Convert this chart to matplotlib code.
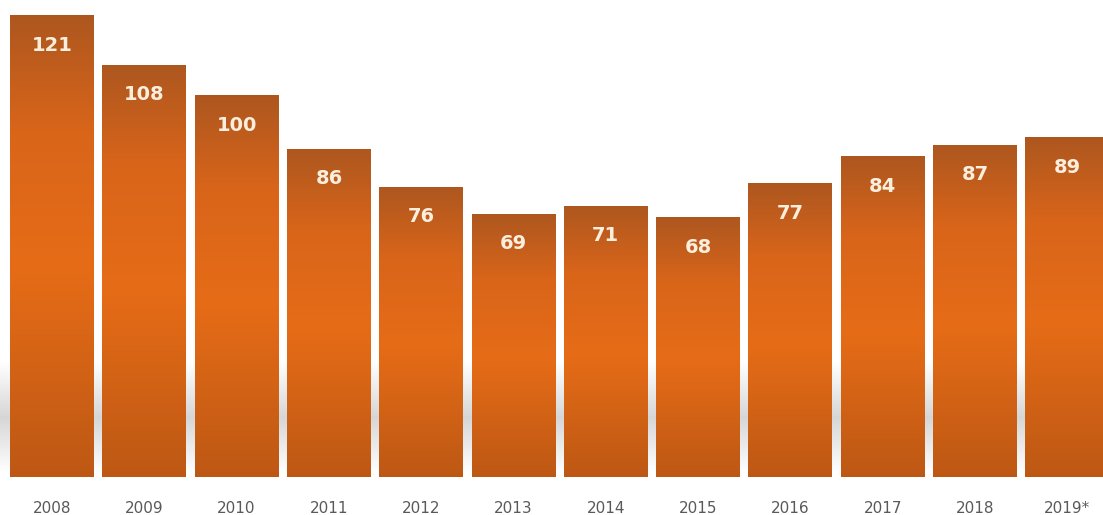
import numpy as np
import matplotlib.pyplot as plt
from matplotlib.colors import LinearSegmentedColormap
from matplotlib.patches import Rectangle

years = ['2008', '2009', '2010', '2011', '2012', '2013', '2014', '2015',
         '2016', '2017', '2018', '2019*']
values = [121, 108, 100, 86, 76, 69, 71, 68, 77, 84, 87, 89]

fig = plt.figure(figsize=(11.03, 5.15), dpi=100)
ax = fig.add_axes([0, 38 / 515, 1, 477 / 515])

x = np.arange(len(years))
width = 0.91
ymax = 477 / 3.818

# vertical gradient: brownish at top, bright orange middle, darker at bottom
cmap = LinearSegmentedColormap.from_list('bar', [
    (0.0, '#bd5814'),
    (0.45, '#e66c17'),
    (0.75, '#d9651a'),
    (1.0, '#ad571f'),
])
grad = np.linspace(0, 1, 256).reshape(-1, 1)

# soft grey shadow in the gaps near the bottom
shadow = LinearSegmentedColormap.from_list('sh', ['#ffffff', '#d6d6d6', '#ffffff'])
ax.imshow(np.linspace(0, 1, 128).reshape(-1, 1), cmap=shadow, aspect='auto',
          extent=(-0.6, 11.4, 1, 30), origin='lower', zorder=0)

for xi, v in zip(x, values):
    rect = Rectangle((xi - width / 2, 0), width, v, facecolor='none',
                     edgecolor='none', zorder=2)
    ax.add_patch(rect)
    im = ax.imshow(grad, cmap=cmap, aspect='auto', origin='lower',
                   extent=(xi - width / 2, xi + width / 2, 0, v), zorder=2)
    im.set_clip_path(rect)
    ax.text(xi, v - 30 / 3.818, str(v), ha='center', va='center',
            color='#fbeedd', fontsize=14, fontweight='bold', zorder=3)

ax.set_xlim(-52 / 92.3, (1103 - 52) / 92.3)
ax.set_ylim(0, ymax)
ax.set_xticks(x)
ax.set_xticklabels(years, fontsize=11, color='#595959')
ax.tick_params(axis='x', length=0, pad=17)
ax.set_yticks([])
for s in ax.spines.values():
    s.set_visible(False)

plt.savefig('out.png', dpi=100)
